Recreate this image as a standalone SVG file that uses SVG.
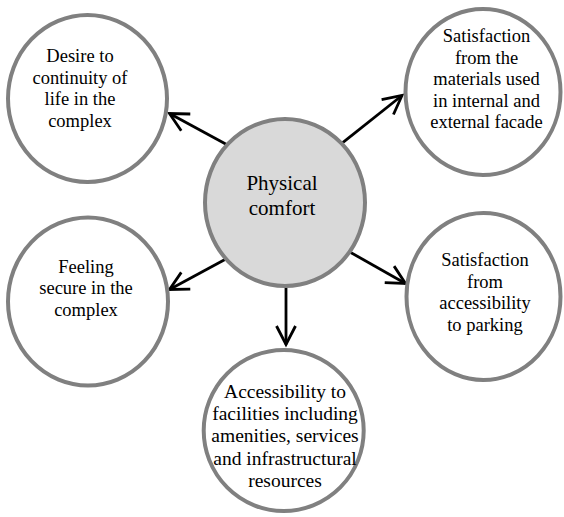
<svg xmlns="http://www.w3.org/2000/svg" width="564" height="517" viewBox="0 0 564 517" font-family="'Liberation Serif', 'Times New Roman', Times, serif">
<style>
.node{fill:#ffffff;stroke:#808080;stroke-width:4}
.hub{fill:#d9d9d9;stroke:#808080;stroke-width:4}
text{font-family:'Liberation Serif','Times New Roman',Times,serif}
.t{font-size:18.5px;fill:#000000;text-anchor:middle}
.tb{font-size:19.5px}
.th{font-size:21px}
.c{stroke:#000000;stroke-width:2.8;fill:none;marker-end:url(#arr)}
</style>
<defs>
<marker id="arr" markerUnits="userSpaceOnUse" viewBox="-22 -12 26 24" refX="0" refY="0" markerWidth="26" markerHeight="24" orient="auto" overflow="visible">
<path d="M -18.5,-9.5 L 0,0 L -18.5,9.5" fill="none" stroke="#000000" stroke-width="2.8"/>
</marker>
</defs>
<g id="connectors">
<line class="c" x1="227.5" y1="145" x2="169.5" y2="113.5"/>
<line class="c" x1="342.7" y1="142.7" x2="402" y2="95.5"/>
<line class="c" x1="227.3" y1="258.3" x2="169.5" y2="289.5"/>
<line class="c" x1="349.3" y1="251.7" x2="405.5" y2="283.5"/>
<line class="c" x1="286" y1="287.5" x2="286" y2="344.5"/>
</g>
<g id="hub">
<ellipse class="hub" cx="285" cy="202.5" rx="80" ry="83.5"/>
<text class="t th" x="282" y="190">Physical</text>
<text class="t th" x="282" y="215">comfort</text>
</g>
<g id="n-desire">
<ellipse class="node" cx="87.5" cy="98.5" rx="79.5" ry="83.5"/>
<text class="t" x="80" y="62">Desire to</text>
<text class="t" x="80" y="83.5">continuity of</text>
<text class="t" x="80" y="105">life in the</text>
<text class="t" x="80" y="126.5">complex</text>
</g>
<g id="n-materials">
<ellipse class="node" cx="483" cy="92" rx="77.5" ry="83"/>
<text class="t" x="486.5" y="42">Satisfaction</text>
<text class="t" x="486.5" y="63.5">from the</text>
<text class="t" x="486.5" y="85">materials used</text>
<text class="t" x="486.5" y="106.5">in internal and</text>
<text class="t" x="486.5" y="128">external facade</text>
</g>
<g id="n-secure">
<ellipse class="node" cx="88" cy="301.5" rx="80" ry="84"/>
<text class="t" x="86" y="272.5">Feeling</text>
<text class="t" x="86" y="294">secure in the</text>
<text class="t" x="86" y="315.5">complex</text>
</g>
<g id="n-parking">
<ellipse class="node" cx="483.5" cy="296.5" rx="77" ry="83.5"/>
<text class="t" x="485" y="266">Satisfaction</text>
<text class="t" x="485" y="287.5">from</text>
<text class="t" x="485" y="309">accessibility</text>
<text class="t" x="485" y="330.5">to parking</text>
</g>
<g id="n-facilities">
<ellipse class="node" cx="283.7" cy="430.5" rx="80" ry="80.5"/>
<text class="t tb" x="285" y="398">Accessibility to</text>
<text class="t tb" x="285" y="420.2">facilities including</text>
<text class="t tb" x="285" y="442.4">amenities, services</text>
<text class="t tb" x="285" y="464.6">and infrastructural</text>
<text class="t tb" x="285" y="486.8">resources</text>
</g>
</svg>
